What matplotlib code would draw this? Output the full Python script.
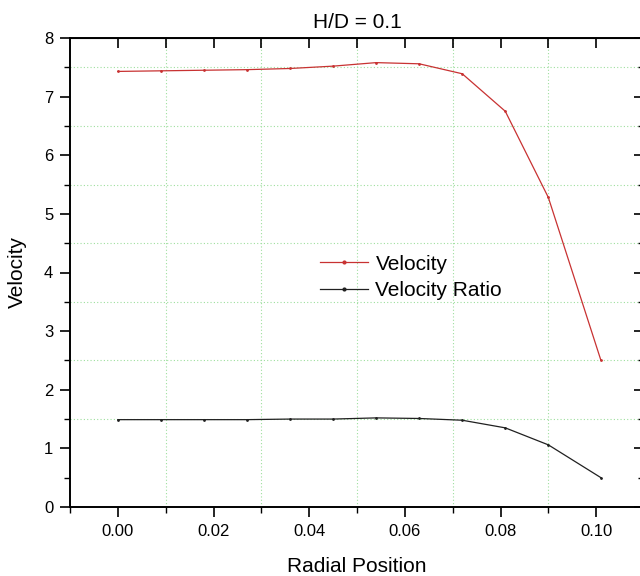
import matplotlib
matplotlib.use("Agg")
import matplotlib.pyplot as plt
from matplotlib.ticker import MultipleLocator

# ----- Data -----
radial_pos = [0.000, 0.009, 0.018, 0.027, 0.036, 0.045, 0.054, 0.063, 0.072, 0.081, 0.090, 0.101]
velocity = [7.43, 7.44, 7.45, 7.46, 7.48, 7.52, 7.58, 7.56, 7.39, 6.75, 5.28, 2.50]
velocity_ratio = [1.49, 1.49, 1.49, 1.49, 1.50, 1.50, 1.52, 1.51, 1.48, 1.35, 1.06, 0.50]
series_names = ["Velocity", "Velocity Ratio"]
x_ticks = [0.00, 0.02, 0.04, 0.06, 0.08, 0.10]
title = "H/D = 0.1"

plt.rcParams['font.family'] = ['Liberation Sans', 'DejaVu Sans']

fig = plt.figure(figsize=(6.4, 5.76), dpi=100)
# right spine sits just past the right edge, as in the reference
ax = fig.add_axes([70 / 640, 69 / 576, 574 / 640, 469 / 576])

grid_kw = dict(color="#9edf9e", linestyle=(0, (1, 2)), linewidth=0.8, zorder=0)
for gx in [0.01, 0.03, 0.05, 0.07, 0.09]:
    ax.axvline(gx, **grid_kw)
for gy in [1.5, 2.5, 3.5, 4.5, 5.5, 6.5, 7.5]:
    ax.axhline(gy, **grid_kw)

ax.plot(radial_pos, velocity, color="#c83232", lw=0.9, marker="o", ms=1.0,
        label=series_names[0])
ax.plot(radial_pos, velocity_ratio, color="#202020", lw=0.9, marker="o", ms=1.0,
        label=series_names[1])

ax.set_xlim(-0.01, 0.11)
ax.set_ylim(0, 8)
ax.set_xticks(x_ticks)
ax.set_xticklabels([f"{t:.2f}" for t in x_ticks])
ax.xaxis.set_minor_locator(MultipleLocator(0.01))
ax.yaxis.set_major_locator(MultipleLocator(1))
ax.yaxis.set_minor_locator(MultipleLocator(0.5))
ax.tick_params(which="major", direction="out", length=7, width=1.2, labelsize=12, pad=5)
ax.tick_params(which="minor", direction="out", length=4, width=1.0)
for sp in ax.spines.values():
    sp.set_linewidth(1.4)

top = ax.secondary_xaxis("top")
top.set_xticks([0.00, 0.01, 0.02, 0.03, 0.04, 0.05, 0.06, 0.07, 0.08, 0.09, 0.10, 0.11])
top.tick_params(direction="in", length=7, width=1.2, labeltop=False)
right = ax.secondary_yaxis("right")
right.yaxis.set_major_locator(MultipleLocator(1))
right.yaxis.set_minor_locator(MultipleLocator(0.5))
right.tick_params(which="major", direction="in", length=7, width=1.2, labelright=False)
right.tick_params(which="minor", direction="in", length=4, width=1.0)

ax.set_xlabel("Radial Position", fontsize=15, labelpad=13)
ax.set_ylabel("Velocity", fontsize=15, labelpad=12)
ax.set_title(title, fontsize=15, pad=7)

ax.legend(loc="center left", bbox_to_anchor=(0.436, 0.49), frameon=False, fontsize=15,
          handlelength=2.3, handletextpad=0.35, labelspacing=0.35, borderpad=0,
          borderaxespad=0, markerscale=2)

fig.savefig("out.png", dpi=100)
